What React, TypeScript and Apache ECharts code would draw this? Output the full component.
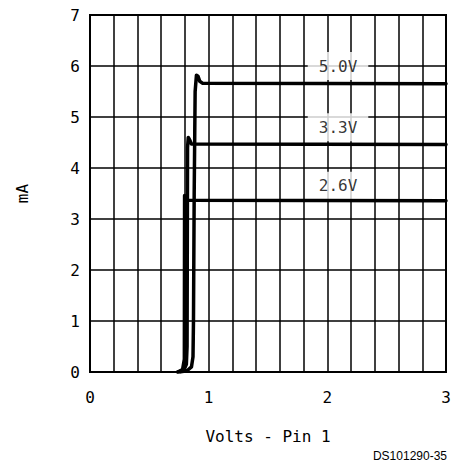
import React, { useEffect, useRef } from "react";
import * as echarts from "echarts";

const curve50: [number, number][] = [
  [0.76, 0], [0.82, 0.03], [0.855, 0.1], [0.868, 0.3], [0.872, 1.0], [0.878, 3.5],
  [0.886, 5.5], [0.897, 5.82], [0.91, 5.8], [0.925, 5.7], [0.95, 5.66], [3.0, 5.65],
];
const curve33: [number, number][] = [
  [0.74, 0], [0.79, 0.03], [0.812, 0.15], [0.818, 0.5], [0.822, 4.4], [0.828, 4.6],
  [0.84, 4.55], [0.855, 4.47], [3.0, 4.46],
];
const curve26: [number, number][] = [
  [0.74, 0], [0.78, 0.05], [0.795, 0.25], [0.797, 3.46], [0.805, 3.42], [0.815, 3.37], [3.0, 3.36],
];
const curveLabels = ["5.0V", "3.3V", "2.6V"];
const labelPos: [number, number][] = [[2.09, 6.0], [2.09, 4.8], [2.09, 3.65]];
const xTitle = "Volts - Pin 1";
const yTitle = "mA";
const footnote = "DS101290-35";

const MONO = "'DejaVu Sans Mono', monospace";

export default function App() {
  const ref = useRef<HTMLDivElement>(null);
  useEffect(() => {
    if (!ref.current) return;
    const chart = echarts.init(ref.current, null, { renderer: "svg" });
    const lineStyle = { color: "#000", width: 3.5, join: "round" as const, cap: "round" as const };
    chart.setOption({
      animation: false,
      backgroundColor: "#fff",
      grid: {
        left: 90, right: 10, top: 15, bottom: 90,
        show: true, borderColor: "#000", borderWidth: 2, backgroundColor: "transparent",
        outerBoundsMode: "none",
      },
      xAxis: {
        type: "value", min: 0, max: 3, interval: 1,
        name: xTitle, nameLocation: "middle", nameGap: 56,
        nameTextStyle: { fontFamily: MONO, fontSize: 16, color: "#000" },
        axisLine: { show: true, lineStyle: { color: "#000", width: 2 } },
        axisTick: { show: false },
        axisLabel: { fontFamily: MONO, fontSize: 16, color: "#000", margin: 17 },
        splitLine: { show: true, lineStyle: { color: "#000", width: 1.5 } },
        minorTick: { show: false, splitNumber: 5 },
        minorSplitLine: { show: true, lineStyle: { color: "#000", width: 1.5 } },
      },
      yAxis: {
        type: "value", min: 0, max: 7, interval: 1,
        name: yTitle, nameLocation: "middle", nameGap: 60, nameRotate: 90,
        nameTextStyle: { fontFamily: MONO, fontSize: 16, color: "#000" },
        axisLine: { show: true, lineStyle: { color: "#000", width: 2 } },
        axisTick: { show: false },
        axisLabel: { fontFamily: MONO, fontSize: 16, color: "#000", margin: 10 },
        splitLine: { show: true, lineStyle: { color: "#000", width: 1.5 } },
      },
      series: [
        {
          type: "scatter", z: 1, symbolSize: 0, silent: true,
          data: labelPos.map((p, i) => ({ value: p, name: curveLabels[i] })),
          label: {
            show: true, position: "inside", formatter: "{b}",
            fontFamily: MONO, fontSize: 16, color: "#000", lineHeight: 16,
            backgroundColor: "#fff", padding: [6, 11],
          },
        },
        { type: "line", z: 3, data: curve50, symbol: "none", lineStyle },
        { type: "line", z: 3, data: curve33, symbol: "none", lineStyle },
        { type: "line", z: 3, data: curve26, symbol: "none", lineStyle },
      ],
      graphic: [
        {
          type: "text", right: 9, top: 450,
          style: { text: footnote, fontFamily: "'Liberation Sans', Arial, sans-serif", fontSize: 12, lineHeight: 12, fill: "#000" },
        },
      ],
    });
    return () => chart.dispose();
  }, []);
  return <div ref={ref} style={{ width: 456, height: 462, position: "absolute", left: 0, top: 0 }} />;
}
